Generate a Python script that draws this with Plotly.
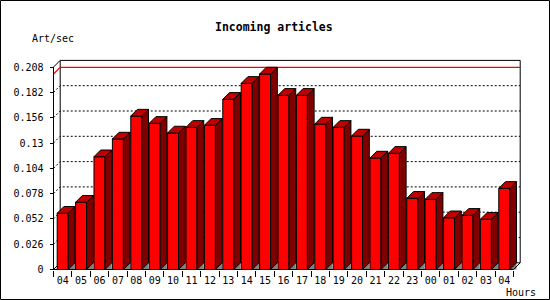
import plotly.graph_objects as go

# ---- data ----
hours = ["04", "05", "06", "07", "08", "09", "10", "11", "12", "13", "14", "15", "16",
         "17", "18", "19", "20", "21", "22", "23", "00", "01", "02", "03", "04"]
rates = [0.0578, 0.0691, 0.1159, 0.1341, 0.1577, 0.1502, 0.1403, 0.1461, 0.1482, 0.1749,
         0.1913, 0.2009, 0.1790, 0.1790, 0.1495, 0.1461, 0.1372, 0.1146, 0.1194, 0.0732,
         0.0721, 0.0532, 0.0557, 0.0516, 0.0834]
ytick_vals = [0, 0.026, 0.052, 0.078, 0.104, 0.13, 0.156, 0.182, 0.208]
ytick_text = ["0", "0.026", "0.052", "0.078", "0.104", "0.13", "0.156", "0.182", "0.208"]
title_text = "Incoming articles"
ylabel_text = "Art/sec"
xlabel_text = "Hours"

# ---- geometry ----
W, H = 550, 300
PL, PR, PT, PB = 48, 524, 56, 274
PW, PH = PR - PL, PB - PT
SLOT = 18.4            # px per category
X0PX = 53.5            # px of first category boundary
Y0PX = 269.5           # px of value 0
YSCALE = 25.3 / 0.026  # px per value unit
x_range = [-0.5 - (X0PX - PL) / SLOT, -0.5 + (PR - X0PX) / SLOT]
y_range = [-(PB - Y0PX) / YSCALE, (Y0PX - PT) / YSCALE]
DX = 6.7 / SLOT
DY = 6.7 / YSCALE
BW = 0.6
n = len(rates)
xs = list(range(n))
YTOP = ytick_vals[-1]
XL = -0.5
XR = n - 0.5
XB = XR + DX
MONO = "DejaVu Sans Mono"

def px(xp):
    return (xp - PL) / PW

def py(yp):
    return (PB - yp) / PH

def path(pts):
    return "M " + " L ".join(f"{a},{b}" for a, b in pts)

fig = go.Figure()

# front faces
fig.add_trace(go.Bar(x=xs, y=rates, width=BW,
                     marker=dict(color="#FF0000", line=dict(color="black", width=1)),
                     hoverinfo="skip", showlegend=False))

# floor triangles, side faces, top faces
for i, v in enumerate(rates):
    l = i - BW / 2
    r = i + BW / 2
    fig.add_trace(go.Scatter(x=[r, r + DX, r + DX, r], y=[0, 0, DY, 0], mode="lines",
                             fill="toself", fillcolor="#808080",
                             line=dict(color="rgba(0,0,0,0)", width=0),
                             hoverinfo="skip", showlegend=False))
    fig.add_trace(go.Scatter(x=[r, r + DX, r + DX, r, r], y=[0, DY, v + DY, v, 0], mode="lines",
                             fill="toself", fillcolor="#800000",
                             line=dict(color="black", width=1),
                             hoverinfo="skip", showlegend=False))
    fig.add_trace(go.Scatter(x=[l, l + DX, r + DX, r, l], y=[v, v + DY, v + DY, v, v], mode="lines",
                             fill="toself", fillcolor="#C00000",
                             line=dict(color="black", width=1),
                             hoverinfo="skip", showlegend=False))

shapes = []
# back plane
shapes.append(dict(type="rect", xref="x", yref="y", x0=XL + DX, y0=DY, x1=XB, y1=YTOP + DY,
                   fillcolor="white", line=dict(color="black", width=1), layer="below"))
# dotted grid lines
for v in ytick_vals[1:-1]:
    shapes.append(dict(type="path", xref="x", yref="y",
                       path=path([(XL, v), (XL + DX, v + DY), (XB, v + DY)]),
                       line=dict(color="black", width=1, dash="2px,2px"), layer="below"))
# max line
vmax = max(rates)
shapes.append(dict(type="path", xref="x", yref="y",
                   path=path([(XL, vmax), (XL + DX, vmax + DY), (XB, vmax + DY)]),
                   line=dict(color="#FF0000", width=1.2), layer="below"))
# front frame
shapes.append(dict(type="path", xref="x", yref="y",
                   path=path([(XL + DX, YTOP + DY), (XL, YTOP), (XL, 0), (XR, 0), (XB, DY)]),
                   line=dict(color="black", width=1), layer="above"))
shapes.append(dict(type="path", xref="x", yref="y",
                   path=path([(XL, 0), (XL + DX, DY)]),
                   line=dict(color="black", width=1), layer="below"))
# outer border
shapes.append(dict(type="rect", xref="paper", yref="paper",
                   x0=px(0.5), x1=px(549.5), y0=py(299.5), y1=py(0.5),
                   line=dict(color="black", width=1), fillcolor="rgba(0,0,0,0)", layer="above"))

annotations = [
    dict(text="<b>" + title_text + "</b>", xref="paper", yref="paper", x=px(274), y=py(27),
         xanchor="center", yanchor="middle", showarrow=False,
         font=dict(family=MONO, size=11.5, color="black")),
    dict(text=ylabel_text, xref="paper", yref="paper", x=px(29.5), y=py(38.5),
         xanchor="left", yanchor="middle", showarrow=False,
         font=dict(family=MONO, size=10, color="black")),
    dict(text=xlabel_text, xref="paper", yref="paper", x=px(504), y=py(292),
         xanchor="left", yanchor="middle", showarrow=False,
         font=dict(family=MONO, size=10, color="black")),
]

fig.update_layout(
    width=W, height=H,
    margin=dict(l=PL, r=W - PR, t=PT, b=H - PB, pad=0, autoexpand=False),
    paper_bgcolor="white", plot_bgcolor="white",
    showlegend=False, barmode="overlay",
    shapes=shapes, annotations=annotations,
    xaxis=dict(range=x_range, showgrid=False, zeroline=False, showline=False,
               tickmode="array", tickvals=xs, ticktext=hours, ticks="",
               anchor="free", position=(PB - Y0PX) / PH,
               tickfont=dict(family=MONO, size=10, color="black"),
               ticklabelstandoff=3,
               minor=dict(tickmode="array", tickvals=[i - 0.5 for i in range(n + 1)],
                          ticks="outside", ticklen=6, tickcolor="black", tickwidth=1,
                          showgrid=False),
               fixedrange=True),
    yaxis=dict(range=y_range, showgrid=False, zeroline=False, showline=False,
               tickmode="array", tickvals=ytick_vals, ticktext=ytick_text,
               ticks="outside", ticklen=4, tickcolor="black", tickwidth=1,
               anchor="free", position=(X0PX - PL) / PW,
               tickfont=dict(family=MONO, size=10, color="black"),
               ticklabelstandoff=4,
               fixedrange=True),
)

fig.write_html("out.html")
